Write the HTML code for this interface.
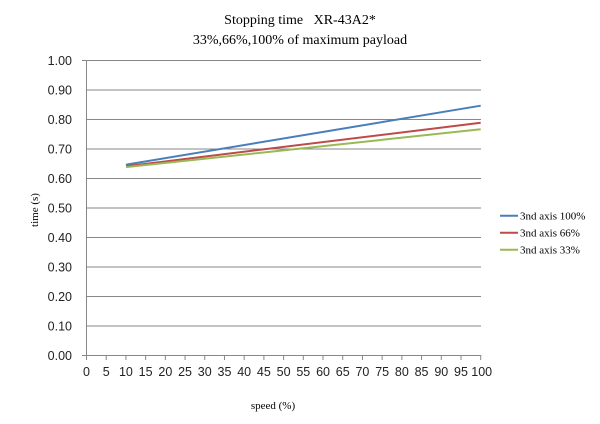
<!DOCTYPE html><html><head><style>body{margin:0;background:#fff}</style></head><body>
<svg width="600" height="419" xmlns="http://www.w3.org/2000/svg">
<rect width="600" height="419" fill="#fff"/>
<g font-family="Liberation Serif, serif" font-size="14" fill="#000" text-anchor="middle">
<text x="300" y="24" style="white-space:pre" xml:space="preserve">Stopping time   XR-43A2*</text>
<text x="300" y="44">33%,66%,100% of maximum payload</text>
</g>
<g stroke="#878787" stroke-width="1">
<line x1="86.5" y1="60.5" x2="481" y2="60.5"/><line x1="86.5" y1="90" x2="481" y2="90"/>
<line x1="86.5" y1="119.5" x2="481" y2="119.5"/><line x1="86.5" y1="149" x2="481" y2="149"/>
<line x1="86.5" y1="178.5" x2="481" y2="178.5"/><line x1="86.5" y1="208" x2="481" y2="208"/>
<line x1="86.5" y1="237.5" x2="481" y2="237.5"/><line x1="86.5" y1="267" x2="481" y2="267"/>
<line x1="86.5" y1="296.5" x2="481" y2="296.5"/><line x1="86.5" y1="326" x2="481" y2="326"/>
<line x1="82" y1="355.5" x2="481" y2="355.5"/>
<line x1="86.5" y1="60" x2="86.5" y2="355"/>
<line x1="82" y1="60.5" x2="86.5" y2="60.5"/>
</g>
<g id="ticks" stroke="#878787"></g>
<g font-family="Liberation Sans, sans-serif" font-size="12.5" fill="#222" text-anchor="end">
<text x="72" y="65">1.00</text><text x="72" y="94.5">0.90</text><text x="72" y="124">0.80</text>
<text x="72" y="153.5">0.70</text><text x="72" y="183">0.60</text><text x="72" y="212.5">0.50</text>
<text x="72" y="242">0.40</text><text x="72" y="271.5">0.30</text><text x="72" y="301">0.20</text>
<text x="72" y="330.5">0.10</text><text x="72" y="360">0.00</text>
</g>
<g id="xl" font-family="Liberation Sans, sans-serif" font-size="12.5" fill="#222" text-anchor="middle"></g>
<text x="38" y="210" font-family="Liberation Serif, serif" font-size="11" text-anchor="middle" transform="rotate(-90 38 210)">time (s)</text>
<text x="273" y="409" font-family="Liberation Serif, serif" font-size="11" text-anchor="middle">speed (%)</text>
<g stroke-width="2" fill="none">
<line x1="126" y1="164.7" x2="480.7" y2="105.7" stroke="#4a7ebb"/>
<line x1="126" y1="166.2" x2="480.7" y2="122.8" stroke="#be4b48"/>
<line x1="126" y1="167.1" x2="480.7" y2="129.3" stroke="#98b954"/>
<line x1="500" y1="215.7" x2="518" y2="215.7" stroke="#4a7ebb"/>
<line x1="500" y1="232.7" x2="518" y2="232.7" stroke="#be4b48"/>
<line x1="500" y1="249.7" x2="518" y2="249.7" stroke="#98b954"/>
</g>
<g font-family="Liberation Serif, serif" font-size="11" fill="#000">
<text x="520" y="219.5">3nd axis 100%</text>
<text x="520" y="236.5">3nd axis 66%</text>
<text x="520" y="253.5">3nd axis 33%</text>
</g>
<script>
var t=document.getElementById('ticks'),l=document.getElementById('xl'),s='http://www.w3.org/2000/svg';
for(var i=0;i<=20;i++){var x=86.5+i*19.71;var e=document.createElementNS(s,'line');e.setAttribute('x1',x);e.setAttribute('x2',x);e.setAttribute('y1',355);e.setAttribute('y2',360);t.appendChild(e);
var x2=(i==20)?x+1:x;var tx=document.createElementNS(s,'text');tx.setAttribute('x',x2);tx.setAttribute('y',376);tx.textContent=i*5;l.appendChild(tx);}
</script>
</svg></body></html>
